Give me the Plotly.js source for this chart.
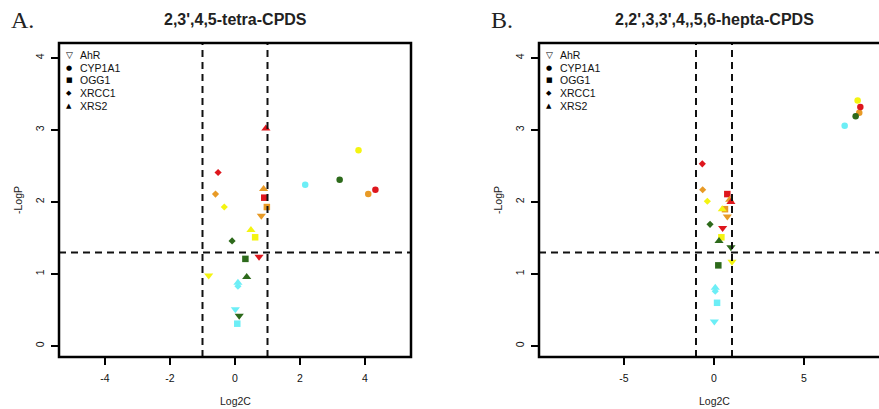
<!DOCTYPE html>
<html>
<head>
<meta charset="utf-8">
<script src="https://cdn.plot.ly/plotly-3.0.1.min.js"></script>
<style>html,body{margin:0;padding:0;background:#fff;}#chart{width:879px;height:409px;}</style>
</head>
<body>
<div id="chart"></div>
<script>
// ---------- data ----------
const genes = ['AhR', 'CYP1A1', 'OGG1', 'XRCC1', 'XRS2'];
const conditionColors = ['#F4F411', '#E89A26', '#DE161D', '#2D6A1B', '#6CEEF6']; // yellow, orange, red, green, cyan

// Panel A: 2,3',4,5-tetra-CPDS  (values in colour order above)
const aAhR_x    = [-0.81, 0.81, 0.74, 0.13, 0.01];
const aAhR_y    = [0.98, 1.81, 1.24, 0.42, 0.51];
const aCYP_x    = [3.80, 4.10, 4.32, 3.22, 2.16];
const aCYP_y    = [2.72, 2.11, 2.17, 2.31, 2.24];
const aOGG_x    = [0.62, 0.98, 0.90, 0.32, 0.07];
const aOGG_y    = [1.51, 1.93, 2.06, 1.21, 0.31];
const aXRCC_x   = [-0.33, -0.60, -0.52, -0.09, 0.09];
const aXRCC_y   = [1.93, 2.11, 2.41, 1.46, 0.83];
const aXRS_x    = [0.49, 0.88, 0.95, 0.36, 0.09];
const aXRS_y    = [1.61, 2.18, 3.02, 0.96, 0.88];

// Panel B: 2,2',3,3',4,,5,6-hepta-CPDS
const bAhR_x    = [1.00, 0.74, 0.48, 0.94, 0.02];
const bAhR_y    = [1.17, 1.80, 1.64, 1.37, 0.34];
const bCYP_x    = [7.98, 8.07, 8.13, 7.87, 7.26];
const bCYP_y    = [3.41, 3.24, 3.32, 3.19, 3.06];
const bOGG_x    = [0.41, 0.61, 0.74, 0.24, 0.17];
const bOGG_y    = [1.51, 1.90, 2.11, 1.12, 0.60];
const bXRCC_x   = [-0.37, -0.63, -0.65, -0.22, 0.07];
const bXRCC_y   = [2.01, 2.17, 2.53, 1.69, 0.76];
const bXRS_x    = [0.46, 0.87, 0.94, 0.28, 0.07];
const bXRS_y    = [1.90, 2.03, 2.00, 1.46, 0.81];

const panelTitles = ["2,3',4,5-tetra-CPDS", "2,2',3,3',4,,5,6-hepta-CPDS"];
const panelLetters = ['A.', 'B.'];
const xTitle = 'Log2C';
const yTitle = '-LogP';
const xTickValsA = [-4, -2, 0, 2, 4];
const xTickTextA = ['-4', '-2', '0', '2', '4'];
const xTickValsB = [-5, 0, 5];
const xTickTextB = ['-5', '0', '5'];
const yTickVals = [0, 1, 2, 3, 4];
const yTickText = ['0', '1', '2', '3', '4'];
const foldCut = 1;          // |log2C| threshold
const pCut = 1.3;           // -log10(0.05)
const legendGlyphs = ['\u25BD', '\u25CF', '\u25A0', '\u25C6', '\u25B2'];

// ---------- styles ----------
const W = 879, H = 409;
const symbols = ['triangle-down', 'circle', 'square', 'diamond', 'triangle-up'];
const sizes = [8, 6.5, 6.5, 5.5, 8];
const px = v => v / W;
const py = v => 1 - v / H;

const panelA = [[aAhR_x, aAhR_y], [aCYP_x, aCYP_y], [aOGG_x, aOGG_y], [aXRCC_x, aXRCC_y], [aXRS_x, aXRS_y]];
const panelB = [[bAhR_x, bAhR_y], [bCYP_x, bCYP_y], [bOGG_x, bOGG_y], [bXRCC_x, bXRCC_y], [bXRS_x, bXRS_y]];

const traces = [];
[[panelA, 'x', 'y'], [panelB, 'x2', 'y2']].forEach(([panel, xa, ya]) => {
  panel.forEach(([xs, ys], g) => {
    traces.push({
      type: 'scatter', mode: 'markers', name: genes[g], showlegend: false,
      x: xs, y: ys, xaxis: xa, yaxis: ya,
      marker: { symbol: symbols[g], size: sizes[g], color: conditionColors, line: { width: 0 } },
      hoverinfo: 'x+y+name'
    });
  });
});

const tickFont = { family: 'Liberation Sans, Arial, sans-serif', size: 10.5, color: '#111' };
function xAxis(domain, range, vals, text) {
  return { domain, range, tickvals: vals, ticktext: text, ticks: 'outside', ticklen: 7, tickwidth: 2.2,
    tickcolor: '#000', showgrid: false, zeroline: false, showline: false, tickfont: tickFont,
    ticklabelstandoff: 4, fixedrange: true };
}
function yAxis(anchor) {
  return { domain: [py(357), py(43)], range: [-11 / 72, 303 / 72], anchor, tickvals: yTickVals, ticktext: yTickText,
    ticks: 'outside', ticklen: 7, tickwidth: 2.2, tickcolor: '#000', showgrid: false, zeroline: false,
    showline: false, tickfont: tickFont, tickangle: -90, ticklabelstandoff: 3, fixedrange: true };
}

const dash = '7px,5px';
const shapes = [];
[['x', 'y', 1], ['x2', 'y2', 1.03]].forEach(([xa, ya, right]) => {
  shapes.push({ type: 'line', xref: xa, yref: ya + ' domain', x0: -foldCut, x1: -foldCut, y0: 0, y1: 1, line: { color: '#111', width: 2, dash } });
  shapes.push({ type: 'line', xref: xa, yref: ya + ' domain', x0: foldCut, x1: foldCut, y0: 0, y1: 1, line: { color: '#111', width: 2, dash } });
  shapes.push({ type: 'line', xref: xa + ' domain', yref: ya, x0: 0, x1: 1, y0: pCut, y1: pCut, line: { color: '#111', width: 2, dash } });
  shapes.push({ type: 'rect', xref: xa + ' domain', yref: ya + ' domain', x0: 0, x1: right, y0: 0, y1: 1, line: { color: '#000', width: 2.5 }, fillcolor: 'rgba(0,0,0,0)' });
});

const annotations = [];
const centers = [235, 714];
const lefts = [59, 539];
[0, 1].forEach(p => {
  annotations.push({ xref: 'paper', yref: 'paper', x: px(lefts[p] - 37), y: py(20), xanchor: 'center', yanchor: 'middle', showarrow: false,
    text: panelLetters[p], font: { family: 'Liberation Serif, Times New Roman, serif', size: 24, color: '#222' } });
  annotations.push({ xref: 'paper', yref: 'paper', x: px(centers[p]), y: py(19), xanchor: 'center', yanchor: 'middle', showarrow: false,
    text: '<b>' + panelTitles[p] + '</b>', font: { family: 'Liberation Sans, Arial, sans-serif', size: 16, color: '#222' } });
  annotations.push({ xref: 'paper', yref: 'paper', x: px(centers[p]), y: py(401), xanchor: 'center', yanchor: 'middle', showarrow: false,
    text: xTitle, font: { family: 'Liberation Sans, Arial, sans-serif', size: 10.5, color: '#222' } });
  annotations.push({ xref: 'paper', yref: 'paper', x: px(lefts[p] - 41), y: py(200), xanchor: 'center', yanchor: 'middle', showarrow: false,
    textangle: -90, text: yTitle, font: { family: 'Liberation Sans, Arial, sans-serif', size: 10.5, color: '#222' } });
  genes.forEach((g, i) => {
    const yy = 55 + i * 12.75;
    annotations.push({ xref: 'paper', yref: 'paper', x: px(lefts[p] + 10), y: py(yy), xanchor: 'center', yanchor: 'middle', showarrow: false,
      text: legendGlyphs[i], font: { family: 'DejaVu Sans, sans-serif', size: i === 0 ? 9 : 7, color: '#000' } });
    annotations.push({ xref: 'paper', yref: 'paper', x: px(lefts[p] + 19), y: py(yy), xanchor: 'left', yanchor: 'middle', showarrow: false,
      text: g, font: { family: 'Liberation Sans, Arial, sans-serif', size: 10.5, color: '#111' } });
  });
});

const layout = {
  width: W, height: H, margin: { l: 0, r: 0, t: 0, b: 0 }, paper_bgcolor: '#fff', plot_bgcolor: '#fff',
  showlegend: false,
  xaxis: xAxis([px(59), px(411)], [-176 / 32.5, 176 / 32.5], xTickValsA, xTickTextA),
  yaxis: yAxis('x'),
  xaxis2: xAxis([px(539), 1], [-175 / 18, 165 / 18], xTickValsB, xTickTextB),
  yaxis2: yAxis('x2'),
  shapes, annotations
};
layout.xaxis.anchor = 'y';
layout.xaxis2.anchor = 'y2';

Plotly.newPlot('chart', traces, layout, { displayModeBar: false, staticPlot: true });
</script>
</body>
</html>
